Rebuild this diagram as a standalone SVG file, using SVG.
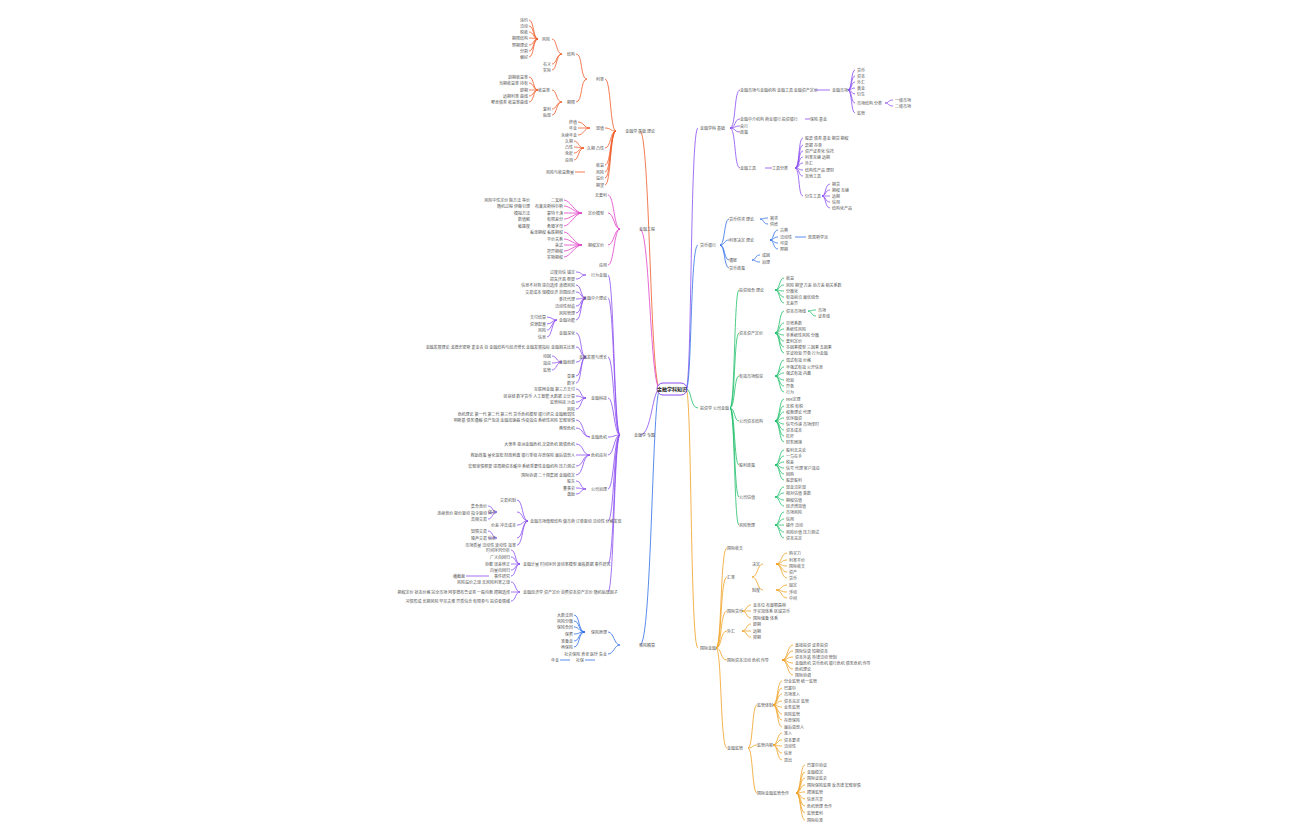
<svg xmlns="http://www.w3.org/2000/svg" width="1296" height="840" viewBox="0 0 1296 840">
<style>
text{font-family:"Noto Sans CJK SC","Liberation Sans",sans-serif;font-size:4px;fill:#555}
.e{fill:none;stroke-width:0.8}
.r{stroke:#f05a28}.k{stroke:#e040c8}.p{stroke:#8a4cf0}.b{stroke:#2f6fe8}.g{stroke:#1fbf6a}.o{stroke:#f0a020}
.L{text-anchor:end}
</style>
<rect width="1296" height="840" fill="#fff"/>
<g id="connectors">
<path class="e r" stroke-width="1.5" d="M660 389 C650 389 650 131 640 131"/>
<path class="e k" d="M660 389 C650 389 650 229 640 229"/>
<path class="e p" stroke-width="1.5" d="M660 389 C652 389 652 435 640 435"/>
<path class="e b" d="M660 389 C652 389 652 645 640 645"/>
<path class="e p" stroke-width="1.5" d="M686 389 C692 389 690 128 698 128"/>
<path class="e b" d="M686 389 C692 389 690 245 698 245"/>
<path class="e g" d="M686 389 C692 389 690 408 698 408"/>
<path class="e o" stroke-width="1.5" d="M686 389 C692 389 690 648 698 648"/>
<path class="e p" d="M730 128 C736 128 734 90 740 90 M730 128 C736 128 734 119 740 119 M730 128 C736 128 734 126 740 126 M730 128 C736 128 734 132 740 132 M730 128 C736 128 734 168 740 168 M815 90 H830 M765 168 H772 M805 119 H810"/>
<path class="e p" d="M848 90 C852 90 851 70 855 70 M848 90 C852 90 851 76 855 76 M848 90 C852 90 851 82 855 82 M848 90 C852 90 851 88 855 88 M848 90 C852 90 851 94 855 94 M848 90 C852 90 851 103 855 103 M848 90 C852 90 851 113 855 113 M885 103 C889 103 888 100 893 100 M885 103 C889 103 888 106 893 106"/>
<path class="e p" d="M795 168 C800 168 798 138 803 138 M795 168 C800 168 798 145 803 145 M795 168 C800 168 798 151 803 151 M795 168 C800 168 798 157 803 157 M795 168 C800 168 798 163 803 163 M795 168 C800 168 798 170 803 170 M795 168 C800 168 798 176 803 176 M795 168 C800 168 798 196 803 196 M822 196 C826 196 825 184 830 184 M822 196 C826 196 825 190 830 190 M822 196 C826 196 825 196 830 196 M822 196 C826 196 825 202 830 202 M822 196 C826 196 825 208 830 208"/>
<path class="e b" d="M720 245 C725 245 724 219 729 219 M720 245 C725 245 724 240 729 240 M720 245 C725 245 724 260 729 260 M720 245 C725 245 724 268 729 268 M760 219 C764 219 763 218 768 218 M760 219 C764 219 763 224 768 224 M770 240 C774 240 773 230 778 230 M770 240 C774 240 773 237 778 237 M770 240 C774 240 773 243 778 243 M770 240 C774 240 773 249 778 249 M795 237 H806 M752 260 C756 260 755 255 760 255 M752 260 C756 260 755 262 760 262"/>
<path class="e g" d="M730 408 C735 408 734 290 739 290 M730 408 C735 408 734 333 739 333 M730 408 C735 408 734 376 739 376 M730 408 C735 408 734 421 739 421 M730 408 C735 408 734 465 739 465 M730 408 C735 408 734 497 739 497 M730 408 C735 408 734 525 739 525"/>
<path class="e g" d="M775 290 C780 290 779 278 784 278 M775 290 C780 290 779 285 784 285 M775 290 C780 290 779 291 784 291 M775 290 C780 290 779 297 784 297 M775 290 C780 290 779 303 784 303
M775 333 C780 333 779 311 784 311 M775 333 C780 333 779 323 784 323 M775 333 C780 333 779 329 784 329 M775 333 C780 333 779 335 784 335 M775 333 C780 333 779 341 784 341 M775 333 C780 333 779 347 784 347 M775 333 C780 333 779 353 784 353 M808 311 C812 311 811 310 816 310 M808 311 C812 311 811 316 816 316
M775 376 C780 376 779 360 784 360 M775 376 C780 376 779 367 784 367 M775 376 C780 376 779 373 784 373 M775 376 C780 376 779 380 784 380 M775 376 C780 376 779 386 784 386 M775 376 C780 376 779 392 784 392
M775 421 C780 421 779 399 784 399 M775 421 C780 421 779 406 784 406 M775 421 C780 421 779 412 784 412 M775 421 C780 421 779 418 784 418 M775 421 C780 421 779 424 784 424 M775 421 C780 421 779 430 784 430 M775 421 C780 421 779 436 784 436 M775 421 C780 421 779 442 784 442
M775 465 C780 465 779 450 784 450 M775 465 C780 465 779 456 784 456 M775 465 C780 465 779 462 784 462 M775 465 C780 465 779 468 784 468 M775 465 C780 465 779 474 784 474 M775 465 C780 465 779 480 784 480
M775 497 C780 497 779 487 784 487 M775 497 C780 497 779 493 784 493 M775 497 C780 497 779 500 784 500 M775 497 C780 497 779 506 784 506
M775 525 C780 525 779 512 784 512 M775 525 C780 525 779 519 784 519 M775 525 C780 525 779 525 784 525 M775 525 C780 525 779 532 784 532 M775 525 C780 525 779 538 784 538"/>
<path class="e o" d="M716 648 C722 648 720 548 727 548 M716 648 C722 648 720 577 727 577 M716 648 C722 648 720 611 727 611 M716 648 C722 648 720 631 727 631 M716 648 C722 648 720 660 727 660 M716 648 C722 648 720 748 727 748
M752 577 C758 577 757 564 763 564 M752 577 C758 577 757 590 763 590 M776 564 C782 564 781 553 787 553 M776 564 C782 564 781 560 787 560 M776 564 C782 564 781 566 787 566 M776 564 C782 564 781 572 787 572 M776 564 C782 564 781 578 787 578 M776 590 C782 590 781 585 787 585 M776 590 C782 590 781 592 787 592 M776 590 C782 590 781 598 787 598
M742 611 C747 611 746 605 751 605 M742 611 C747 611 746 611 751 611 M742 611 C747 611 746 618 751 618 M742 631 C747 631 746 624 751 624 M742 631 C747 631 746 631 751 631 M742 631 C747 631 746 637 751 637
M782 660 C788 660 787 645 793 645 M782 660 C788 660 787 651 793 651 M782 660 C788 660 787 657 793 657 M782 660 C788 660 787 663 793 663 M782 660 C788 660 787 669 793 669 M782 660 C788 660 787 675 793 675
M748 748 C753 748 752 705 757 705 M748 748 C753 748 752 745 757 745 M748 748 C753 748 752 793 757 793
M773 705 C778 705 777 681 782 681 M773 705 C778 705 777 688 782 688 M773 705 C778 705 777 694 782 694 M773 705 C778 705 777 701 782 701 M773 705 C778 705 777 707 782 707 M773 705 C778 705 777 714 782 714 M773 705 C778 705 777 720 782 720 M773 705 C778 705 777 727 782 727
M773 745 C778 745 777 733 782 733 M773 745 C778 745 777 740 782 740 M773 745 C778 745 777 746 782 746 M773 745 C778 745 777 753 782 753 M773 745 C778 745 777 760 782 760
M796 793 C801 793 800 765 805 765 M796 793 C801 793 800 772 805 772 M796 793 C801 793 800 778 805 778 M796 793 C801 793 800 785 805 785 M796 793 C801 793 800 792 805 792 M796 793 C801 793 800 799 805 799 M796 793 C801 793 800 806 805 806 M796 793 C801 793 800 813 805 813 M796 793 C801 793 800 820 805 820"/>
<path class="e r" d="M616 131 C610 131 611 79 605 79 M616 131 C610 131 611 128 605 128 M616 131 C610 131 611 148 605 148 M616 131 C610 131 611 165 605 165 M616 131 C610 131 611 172 605 172 M616 131 C610 131 611 178 605 178 M616 131 C610 131 611 185 605 185
M587 79 C580 79 583 54 576 54 M587 79 C580 79 583 102 576 102 M562 54 C556 54 557 39 552 39 M562 54 C556 54 557 64 552 64 M562 54 C556 54 557 70 552 70 M538 39 C533 39 534 20 529 20 M538 39 C533 39 534 26 529 26 M538 39 C533 39 534 32 529 32 M538 39 C533 39 534 38 529 38 M538 39 C533 39 534 45 529 45 M538 39 C533 39 534 51 529 51 M538 39 C533 39 534 57 529 57
M562 102 C556 102 557 90 552 90 M562 102 C556 102 557 109 552 109 M562 102 C556 102 557 115 552 115 M538 90 C533 90 534 77 529 77 M538 90 C533 90 534 83 529 83 M538 90 C533 90 534 90 529 90 M538 90 C533 90 534 96 529 96 M538 90 C533 90 534 102 529 102
M590 128 C584 128 584 122 578 122 M590 128 C584 128 584 128 578 128 M590 128 C584 128 584 135 578 135 M584 148 C578 148 579 141 574 141 M584 148 C578 148 579 147 574 147 M584 148 C578 148 579 153 574 153 M584 148 C578 148 579 160 574 160 M585 172 H575"/>
<path class="e k" d="M620 229 C614 229 614 195 608 195 M620 229 C614 229 614 213 608 213 M620 229 C614 229 614 245 608 245 M620 229 C614 229 614 265 608 265
M582 213 C575 213 570 200 564 200 M582 213 C575 213 570 206 564 206 M582 213 C575 213 570 213 564 213 M582 213 C575 213 570 219 564 219 M582 213 C575 213 570 226 564 226 M582 245 C575 245 570 232 564 232 M582 245 C575 245 570 239 564 239 M582 245 C575 245 570 245 564 245 M582 245 C575 245 570 251 564 251 M582 245 C575 245 570 257 564 257"/>
<path class="e p" d="M620 435 C614 435 614 275 608 275 M620 435 C614 435 614 298 608 298 M620 435 C614 435 614 357 608 357 M620 435 C614 435 614 398 608 398 M620 435 C614 435 614 437 608 437 M620 435 C614 435 614 455 608 455 M620 435 C614 435 614 489 608 489 M620 435 C614 435 614 521 608 521 M620 435 C614 435 614 564 608 564 M620 435 C614 435 614 592 608 592
M586 275 C580 275 582 272 576 272 M586 275 C580 275 582 279 576 279 M586 298 C580 298 582 285 576 285 M586 298 C580 298 582 292 576 292 M586 298 C580 298 582 299 576 299 M586 298 C580 298 582 306 576 306 M586 298 C580 298 582 313 576 313 M586 298 C580 298 582 320 576 320 M557 320 C552 320 552 317 547 317 M557 320 C552 320 552 324 547 324 M557 320 C552 320 552 330 547 330 M557 320 C552 320 552 337 547 337
M586 357 C580 357 582 333 576 333 M586 357 C580 357 582 347 576 347 M586 357 C580 357 582 362 576 362 M586 357 C580 357 582 376 576 376 M586 357 C580 357 582 383 576 383 M562 362 C556 362 557 356 552 356 M562 362 C556 362 557 363 552 363 M562 362 C556 362 557 370 552 370
M586 398 C580 398 582 389 576 389 M586 398 C580 398 582 396 576 396 M586 398 C580 398 582 402 576 402 M586 398 C580 398 582 409 576 409
M590 437 C582 437 584 420 576 420 M590 437 C582 437 584 428 576 428 M590 455 C582 455 584 444 576 444 M590 455 C582 455 584 455 576 455 M590 455 C582 455 584 466 576 466 M590 455 C582 455 584 475 576 475
M586 489 C580 489 582 481 576 481 M586 489 C580 489 582 488 576 488 M586 489 C580 489 582 494 576 494
M528 521 C522 521 523 500 517 500 M528 521 C522 521 523 512 517 512 M528 521 C522 521 523 525 517 525 M528 521 C522 521 523 538 517 538 M528 521 C522 521 523 545 517 545 M497 512 C492 512 493 506 488 506 M497 512 C492 512 493 513 488 513 M497 512 C492 512 493 519 488 519 M497 538 C492 538 493 531 488 531 M497 538 C492 538 493 538 488 538
M520 564 C515 564 516 550 511 550 M520 564 C515 564 516 557 511 557 M520 564 C515 564 516 564 511 564 M520 564 C515 564 516 570 511 570 M520 564 C515 564 516 576 511 576 M520 592 C515 592 516 582 511 582 M520 592 C515 592 516 592 511 592 M520 592 C515 592 516 601 511 601 M489 576 H466"/>
<path class="e b" d="M620 645 C614 645 614 632 608 632 M620 645 C614 645 614 654 608 654 M585 632 C578 632 580 615 574 615 M585 632 C578 632 580 621 574 621 M585 632 C578 632 580 627 574 627 M585 632 C578 632 580 634 574 634 M585 632 C578 632 580 641 574 641 M585 632 C578 632 580 647 574 647 M595 660 H585 M570 660 H560"/>
</g>
<g id="center"><rect x="657" y="383" width="30" height="12" rx="6" fill="#fff" stroke="#8a4cf0" stroke-width="1"/><text x="672" y="391" text-anchor="middle" style="font-size:5px;font-weight:bold;fill:#222">金融学科知识</text></g>
<g id="right-labels">
<text x="700" y="130">金融学科 基础</text><text x="740" y="92">金融市场与金融机构 金融工具 金融资产定价</text><text x="832" y="92">金融市场</text>
<text x="857" y="72">货币</text><text x="857" y="78">资本</text><text x="857" y="84">外汇</text><text x="857" y="90">黄金</text><text x="857" y="96">衍生</text><text x="857" y="105">市场结构 分类</text><text x="857" y="115">监管</text><text x="895" y="102">一级市场</text><text x="895" y="108">二级市场</text>
<text x="740" y="121">金融中介机构 商业银行 投资银行</text><text x="810" y="121">保险 基金</text><text x="740" y="128">央行</text><text x="740" y="134">政策</text><text x="740" y="170">金融工具</text><text x="772" y="170">工具分类</text>
<text x="805" y="140">股票 债券 基金 期货 期权</text><text x="805" y="147">票据 存单</text><text x="805" y="153">资产证券化 信托</text><text x="805" y="159">利率互换 远期</text><text x="805" y="165">外汇</text><text x="805" y="172">结构性产品 理财</text><text x="805" y="178">其他工具</text><text x="805" y="198">衍生工具</text>
<text x="832" y="186">期货</text><text x="832" y="192">期权 互换</text><text x="832" y="198">远期</text><text x="832" y="204">信用</text><text x="832" y="210">结构化产品</text>
<text x="700" y="247">货币银行</text><text x="729" y="221">货币供求 理论</text><text x="770" y="220">需求</text><text x="770" y="226">供给</text><text x="729" y="242">利率决定 理论</text><text x="780" y="232">古典</text><text x="780" y="239">流动性</text><text x="808" y="239">凯恩斯学派</text><text x="780" y="245">可贷</text><text x="780" y="251">预期</text><text x="729" y="262">通胀</text><text x="762" y="257">成因</text><text x="762" y="264">治理</text><text x="729" y="270">货币政策</text>
<text x="700" y="410">投资学 公司金融</text>
<text x="739" y="292">投资组合 理论</text><text x="739" y="335">资本资产定价</text><text x="739" y="378">有效市场假说</text><text x="739" y="423">公司资本结构</text><text x="739" y="467">股利政策</text><text x="739" y="499">公司估值</text><text x="739" y="527">风险管理</text>
<text x="786" y="280">收益</text><text x="786" y="287">风险 期望 方差 协方差 相关系数</text><text x="786" y="293">分散化</text><text x="786" y="299">有效前沿 最优组合</text><text x="786" y="305">无差异</text>
<text x="786" y="313">资本市场线</text><text x="818" y="312">市场</text><text x="818" y="318">证券线</text><text x="786" y="325">贝塔系数</text><text x="786" y="331">系统性风险</text><text x="786" y="337">非系统性风险 分散</text><text x="786" y="343">套利定价</text><text x="786" y="349">多因素模型 三因素 五因素</text><text x="786" y="355">实证检验 异象 行为金融</text>
<text x="786" y="362">弱式有效 价格</text><text x="786" y="369">半强式有效 公开信息</text><text x="786" y="375">强式有效 内幕</text><text x="786" y="382">检验</text><text x="786" y="388">异象</text><text x="786" y="394">行为</text>
<text x="786" y="401">MM定理</text><text x="786" y="408">无税 有税</text><text x="786" y="414">权衡理论 代理</text><text x="786" y="420">优序融资</text><text x="786" y="426">信号传递 市场择时</text><text x="786" y="432">资本成本</text><text x="786" y="438">杠杆</text><text x="786" y="444">财务困境</text>
<text x="786" y="452">股利无关论</text><text x="786" y="458">一鸟在手</text><text x="786" y="464">税差</text><text x="786" y="470">信号 代理 客户效应</text><text x="786" y="476">回购</text><text x="786" y="482">股票股利</text>
<text x="786" y="489">现金流折现</text><text x="786" y="495">相对估值 乘数</text><text x="786" y="502">期权估值</text><text x="786" y="508">经济增加值</text>
<text x="786" y="514">市场风险</text><text x="786" y="521">信用</text><text x="786" y="527">操作 流动</text><text x="786" y="534">风险价值 压力测试</text><text x="786" y="540">资本充足</text>
<text x="700" y="650">国际金融</text><text x="727" y="550">国际收支</text><text x="727" y="579">汇率</text><text x="752" y="566">决定</text><text x="752" y="592">制度</text>
<text x="789" y="555">购买力</text><text x="789" y="562">利率平价</text><text x="789" y="568">国际收支</text><text x="789" y="574">资产</text><text x="789" y="580">货币</text><text x="789" y="587">固定</text><text x="789" y="594">浮动</text><text x="789" y="600">中间</text>
<text x="727" y="613">国际货币</text><text x="753" y="607">金本位 布雷顿森林</text><text x="753" y="613">牙买加体系 区域货币</text><text x="753" y="620">国际储备 体系</text><text x="727" y="633">外汇</text><text x="753" y="626">即期</text><text x="753" y="633">远期</text><text x="753" y="639">掉期</text>
<text x="727" y="662">国际资本流动 危机 传导</text><text x="795" y="647">直接投资 证券投资</text><text x="795" y="653">国际信贷 短期资本</text><text x="795" y="659">资本外逃 热钱流动 管制</text><text x="795" y="665">金融危机 货币危机 银行危机 债务危机 传导</text><text x="795" y="671">危机理论</text><text x="795" y="677">国际协调</text>
<text x="727" y="750">金融监管</text><text x="757" y="707">监管体制</text><text x="757" y="747">监管内容</text><text x="757" y="795">国际金融监管合作</text>
<text x="784" y="683">分业监管 统一监管</text><text x="784" y="690">巴塞尔</text><text x="784" y="696">市场准入</text><text x="784" y="703">资本充足 监管</text><text x="784" y="709">业务监管</text><text x="784" y="716">风险监管</text><text x="784" y="722">存款保险</text><text x="784" y="729">最后贷款人</text>
<text x="784" y="735">准入</text><text x="784" y="742">资本要求</text><text x="784" y="748">流动性</text><text x="784" y="755">信息</text><text x="784" y="762">退出</text>
<text x="807" y="767">巴塞尔协议</text><text x="807" y="774">金融稳定</text><text x="807" y="780">国际证监会</text><text x="807" y="787">国际保险监督 反洗钱 宏观审慎</text><text x="807" y="794">跨境监管</text><text x="807" y="801">信息共享</text><text x="807" y="808">危机管理 合作</text><text x="807" y="815">监管套利</text><text x="807" y="822">国际标准</text>
</g>
<g id="left-labels">
<text class="L" x="655" y="133">金融学 基础 理论</text><text class="L" x="604" y="81">利率</text><text class="L" x="575" y="56">结构</text><text class="L" x="575" y="104">期限</text>
<text class="L" x="550" y="41">风险</text><text class="L" x="528" y="22">违约</text><text class="L" x="528" y="28">流动</text><text class="L" x="528" y="34">税收</text><text class="L" x="528" y="40">期限结构</text><text class="L" x="528" y="47">预期理论</text><text class="L" x="528" y="53">分割</text><text class="L" x="528" y="59">偏好</text><text class="L" x="551" y="66">名义</text><text class="L" x="551" y="72">实际</text>
<text class="L" x="550" y="92">收益率</text><text class="L" x="528" y="79">到期收益率</text><text class="L" x="528" y="85">当期收益率 持有</text><text class="L" x="528" y="92">即期</text><text class="L" x="528" y="98">远期利率 曲线</text><text class="L" x="528" y="104">零息债券 收益率曲线</text><text class="L" x="551" y="111">复利</text><text class="L" x="551" y="117">贴现</text>
<text class="L" x="604" y="130">现值</text><text class="L" x="577" y="124">终值</text><text class="L" x="577" y="130">年金</text><text class="L" x="577" y="137">永续年金</text><text class="L" x="604" y="150">久期 凸性</text><text class="L" x="573" y="143">久期</text><text class="L" x="573" y="149">凸性</text><text class="L" x="573" y="155">免疫</text><text class="L" x="573" y="162">应用</text>
<text class="L" x="604" y="167">收益</text><text class="L" x="574" y="174">风险与收益衡量</text><text class="L" x="604" y="174">风险</text><text class="L" x="604" y="180">溢价</text><text class="L" x="604" y="187">期望</text>
<text class="L" x="655" y="231">金融工程</text><text class="L" x="607" y="197">无套利</text><text class="L" x="604" y="215">定价模型</text><text class="L" x="604" y="247">期权定价</text><text class="L" x="607" y="267">应用</text>
<text class="L" x="563" y="202">二叉树</text><text class="L" x="530" y="202">风险中性定价 鞅方法 等价</text><text class="L" x="563" y="208">布莱克斯科尔斯</text><text class="L" x="530" y="208">随机过程 伊藤引理</text><text class="L" x="563" y="215">蒙特卡洛</text><text class="L" x="530" y="215">模拟方法</text><text class="L" x="563" y="221">有限差分</text><text class="L" x="530" y="221">数值解</text><text class="L" x="563" y="228">希腊字母</text><text class="L" x="530" y="228">敏感度</text>
<text class="L" x="563" y="234">看涨期权 看跌期权</text><text class="L" x="563" y="241">平价关系</text><text class="L" x="563" y="247">美式</text><text class="L" x="563" y="253">奇异期权</text><text class="L" x="563" y="259">实物期权</text>
<text class="L" x="655" y="437">金融学 专题</text>
<text class="L" x="607" y="277">行为金融</text><text class="L" x="575" y="274">过度自信 锚定</text><text class="L" x="575" y="281">损失厌恶 框架</text>
<text class="L" x="607" y="300">金融中介理论</text><text class="L" x="575" y="287">信息不对称 逆向选择 道德风险</text><text class="L" x="575" y="294">交易成本 规模经济 范围经济</text><text class="L" x="575" y="301">委托代理</text><text class="L" x="575" y="308">流动性创造</text><text class="L" x="575" y="315">风险管理</text><text class="L" x="575" y="322">金融功能</text><text class="L" x="546" y="319">支付结算</text><text class="L" x="546" y="326">资源配置</text><text class="L" x="546" y="332">风险</text><text class="L" x="546" y="339">信息</text>
<text class="L" x="607" y="359">金融发展与增长</text><text class="L" x="575" y="335">金融深化</text><text class="L" x="575" y="349">金融发展理论 戈德史密斯 麦金农 肖 金融结构与经济增长 金融发展指标 金融相关比率</text><text class="L" x="575" y="364">金融创新</text><text class="L" x="551" y="358">动因</text><text class="L" x="551" y="365">效应</text><text class="L" x="551" y="372">监管</text><text class="L" x="575" y="378">普惠</text><text class="L" x="575" y="385">数字</text>
<text class="L" x="607" y="400">金融科技</text><text class="L" x="575" y="391">互联网金融 第三方支付</text><text class="L" x="575" y="398">区块链 数字货币 人工智能 大数据 云计算</text><text class="L" x="575" y="404">监管科技 沙盒</text><text class="L" x="575" y="411">风险</text>
<text class="L" x="607" y="439">金融危机</text><text class="L" x="575" y="416">危机理论 第一代 第二代 第三代 货币危机模型 银行挤兑 金融脆弱性</text><text class="L" x="575" y="422">明斯基 债务通缩 资产泡沫 金融加速器 传染效应 系统性风险 宏观审慎</text><text class="L" x="575" y="430">典型危机</text><text class="L" x="607" y="457">危机应对</text>
<text class="L" x="575" y="446">大萧条 亚洲金融危机 次贷危机 欧债危机</text><text class="L" x="575" y="457">救助政策 量化宽松 财政刺激 银行重组 存款保险 最后贷款人</text><text class="L" x="575" y="468">宏观审慎框架 逆周期资本缓冲 系统重要性金融机构 压力测试</text><text class="L" x="575" y="477">国际协调 二十国集团 金融稳定</text>
<text class="L" x="607" y="491">公司治理</text><text class="L" x="575" y="483">股东</text><text class="L" x="575" y="490">董事会</text><text class="L" x="575" y="496">激励</text>
<text x="530" y="523">金融市场微观结构 做市商 订单驱动 流动性 价格发现</text><text class="L" x="516" y="502">交易机制</text><text class="L" x="496" y="514">做市</text><text class="L" x="487" y="508">集合竞价</text><text class="L" x="487" y="515">连续竞价 报价驱动 指令驱动</text><text class="L" x="487" y="521">高频交易</text><text class="L" x="516" y="527">价差 冲击成本</text><text class="L" x="496" y="540">信息</text><text class="L" x="487" y="533">知情交易</text><text class="L" x="487" y="540">噪声交易</text><text class="L" x="516" y="547">市场质量 流动性 波动性 效率</text>
<text x="523" y="566">金融计量 时间序列 波动率模型 面板数据 事件研究</text><text class="L" x="510" y="552">时间序列分析</text><text class="L" x="510" y="559">广义自回归</text><text class="L" x="510" y="566">协整 误差修正</text><text class="L" x="510" y="572">向量自回归</text><text class="L" x="510" y="578">事件研究</text><text class="L" x="465" y="578">横截面</text>
<text x="523" y="594">金融经济学 资产定价 消费资本资产定价 随机贴现因子</text><text class="L" x="510" y="584">风险溢价之谜 无风险利率之谜</text><text class="L" x="510" y="594">期权定价 状态价格 完全市场 阿罗德布鲁证券 一般均衡 跨期选择</text><text class="L" x="510" y="603">习惯形成 长期风险 罕见灾难 异质信念 有限参与 投资者情绪</text>
<text class="L" x="655" y="647">保险精算</text><text class="L" x="607" y="634">保险原理</text><text class="L" x="573" y="617">大数法则</text><text class="L" x="573" y="623">风险分散</text><text class="L" x="573" y="629">保险合同</text><text class="L" x="573" y="636">保费</text><text class="L" x="573" y="643">准备金</text><text class="L" x="573" y="649">再保险</text><text class="L" x="607" y="656">社会保险 养老 医疗 失业</text><text class="L" x="584" y="662">社保</text><text class="L" x="559" y="662">年金</text>
</g>
</svg>
